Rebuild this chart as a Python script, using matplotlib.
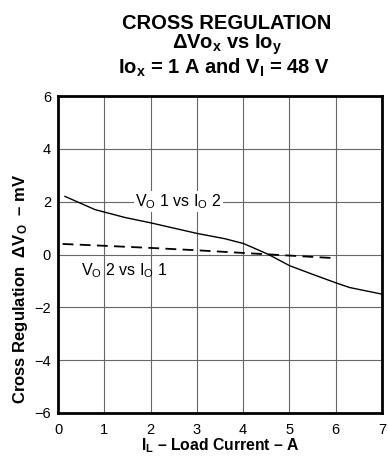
import matplotlib
matplotlib.use("Agg")
import matplotlib.pyplot as plt

plt.rcParams['font.family'] = ['Liberation Sans', 'DejaVu Sans']
plt.rcParams['mathtext.fontset'] = 'custom'
plt.rcParams['mathtext.rm'] = 'Liberation Sans'
plt.rcParams['mathtext.bf'] = 'Liberation Sans:bold'
plt.rcParams['mathtext.it'] = 'Liberation Sans:italic'

# Data
vo1_x = [0.15, 0.8, 1.45, 2.0, 3.0, 3.6, 4.0, 4.2, 4.55, 5.0, 5.5, 6.0, 6.3, 7.0]
vo1_y = [2.2, 1.7, 1.4, 1.2, 0.8, 0.6, 0.42, 0.27, 0.0, -0.42, -0.75, -1.07, -1.25, -1.5]
vo2_x = [0.1, 1.0, 2.0, 3.0, 4.0, 5.0, 6.0]
vo2_y = [0.4, 0.33, 0.25, 0.16, 0.06, -0.04, -0.14]
xticks = [0, 1, 2, 3, 4, 5, 6, 7]
yticks = [-6, -4, -2, 0, 2, 4, 6]

fig = plt.figure(figsize=(3.88, 4.58), dpi=100)
ax = fig.add_axes([0.1495, 0.0983, 0.835, 0.692])

ax.plot(vo1_x, vo1_y, color='black', lw=1.0, zorder=3)
ax.plot(vo2_x, vo2_y, color='black', lw=1.3, dashes=(6, 3.5), zorder=3)

ax.set_xlim(0, 7)
ax.set_ylim(-6, 6)
ax.set_xticks(xticks)
ax.set_yticks(yticks)
ax.set_yticklabels([str(v).replace('-', '\u2212') for v in yticks])
ax.tick_params(length=0, labelsize=10.5)
ax.tick_params(axis='x', pad=7)
ax.tick_params(axis='y', pad=5)
ax.grid(True, color='#666666', lw=0.8)
for s in ax.spines.values():
    s.set_linewidth(2)

ax.text(2.6, 2.0, 'V' + r'$_\mathrm{O}$' + ' 1 vs I' + r'$_\mathrm{O}$' + ' 2', fontsize=11.5,
        ha='center', va='center', bbox=dict(facecolor='white', edgecolor='none', pad=1), zorder=4)
ax.text(0.5, -0.6, 'V' + r'$_\mathrm{O}$' + ' 2 vs I' + r'$_\mathrm{O}$' + ' 1', fontsize=11.5,
        ha='left', va='center', zorder=4)

ax.set_xlabel('I' + r'$\mathbf{_L}$' + ' \u2013 Load Current \u2013 A', fontsize=11.3, fontweight='bold')
ax.xaxis.set_label_coords(0.5, -0.075)
ax.set_ylabel('Cross Regulation  \u0394V' + r'$\mathbf{_O}$' + '  \u2013 mV', fontsize=12, fontweight='bold')
ax.yaxis.set_label_coords(-0.085, 0.392)

fig.text(0.585, 0.970, 'CROSS REGULATION', fontsize=14.5, fontweight='bold', ha='center', va='top')
fig.text(0.585, 0.930, '\u0394Vo' + r'$\mathbf{_x}$' + ' vs Io' + r'$\mathbf{_y}$', fontsize=14.5,
         fontweight='bold', ha='center', va='top')
fig.text(0.578, 0.876, 'Io' + r'$\mathbf{_x}$' + ' = 1 A and V' + r'$\mathbf{_I}$' + ' = 48 V', fontsize=14.5,
         fontweight='bold', ha='center', va='top')

fig.savefig('out.png', dpi=100)
